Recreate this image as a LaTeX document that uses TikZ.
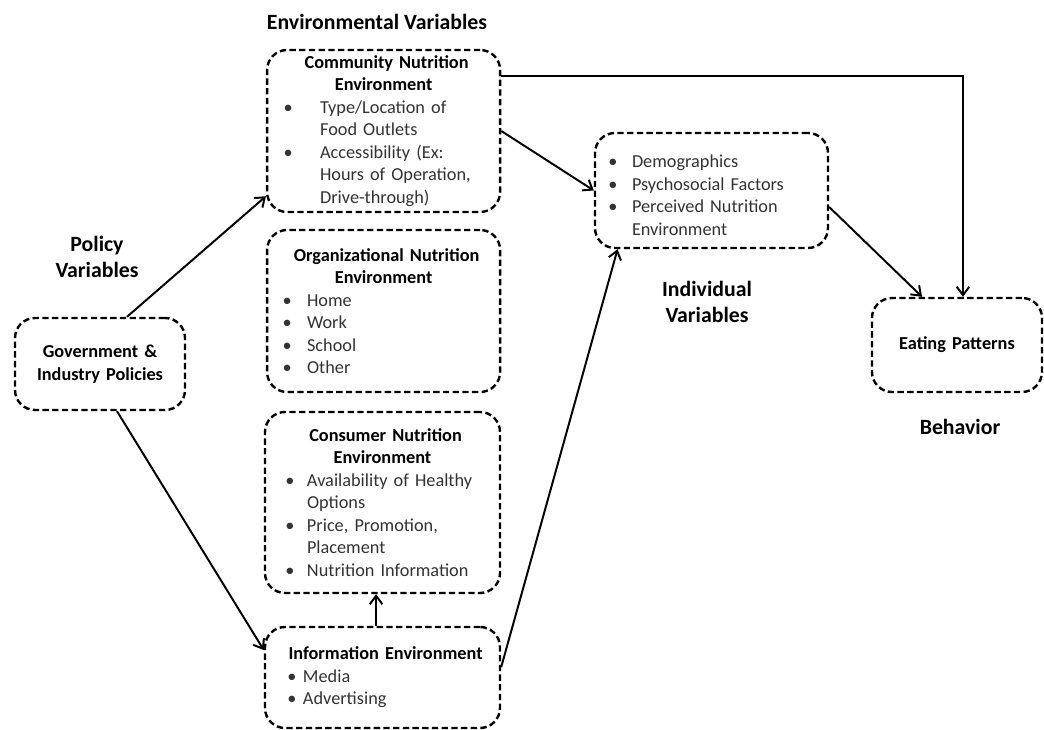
\documentclass[tikz,border=0pt]{standalone}
\usepackage{fontspec}
\setmainfont{Carlito}
\usetikzlibrary{arrows.meta, positioning, calc}

\newlength{\bpre}
\newlength{\bind}
\newcommand{\bitem}[1]{\par\hangindent=\bind\hangafter=1\noindent\makebox[\bind][l]{\hspace{\bpre}\textbullet}#1\par}
\newcommand{\btitle}[1]{{\centering\color{black}\bfseries #1\par}}

\tikzstyle{dbox} = [rectangle, draw=black, dash pattern=on 4.5pt off 2.4pt, line width=1.7pt, rounded corners=0.5cm, inner xsep=0.3cm, text=black!80, font=\fontsize{13}{16}\selectfont, align=left]
\tikzstyle{hdr} = [font=\fontsize{15.5}{19}\selectfont\bfseries, align=center]
\tikzstyle{link} = [->, line width=1.4pt]

\begin{document}
\begin{tikzpicture}[>={Straight Barb[length=6pt,width=9pt]}]
        \useasboundingbox (0,0) rectangle (26.1,18.25);

        % Environmental variables
        \node[hdr] (env_label) at (9.425, 17.7) {Environmental Variables};
        \node[dbox, text width=5.225cm, minimum height=4.05cm] (comm) at (9.59, 14.975) {
            \setlength{\bpre}{0.11cm}\setlength{\bind}{1.025cm}
            \btitle{Community Nutrition\\Environment}
            \bitem{Type/Location of\newline Food Outlets}
            \bitem{Accessibility (Ex:\newline Hours of Operation,\newline Drive-through)}
        };
        \node[dbox, text width=5.225cm, minimum height=4.05cm] (org) at (9.59, 10.475) {
            \setlength{\bpre}{0.085cm}\setlength{\bind}{0.7cm}
            \btitle{Organizational Nutrition\\Environment}
            \bitem{Home}
            \bitem{Work}
            \bitem{School}
            \bitem{Other}
        };
        \node[dbox, text width=5.275cm, minimum height=4.525cm] (cons) at (9.5625, 5.6875) {
            \setlength{\bpre}{0.21cm}\setlength{\bind}{0.75cm}
            \btitle{Consumer Nutrition\\Environment}
            \bitem{Availability of Healthy\newline Options}
            \bitem{Price, Promotion,\newline Placement}
            \bitem{Nutrition Information}
        };
        \node[dbox, text width=5.275cm, minimum height=2.525cm] (info) at (9.5625, 1.3125) {
            \setlength{\bpre}{0.26cm}\setlength{\bind}{0.65cm}
            \btitle{Information Environment}
            \bitem{Media}
            \bitem{Advertising}
        };

        % Policy variables
        \node[hdr] (pol_label) at (2.425, 11.825) {Policy\\Variables};
        \node[dbox, text=black, text width=3.65cm, minimum height=2.3cm, align=center, font=\fontsize{13}{16}\selectfont\bfseries] (pol) at (2.5, 9.15) {Government \&\\Industry Policies};

        % Individual variables
        \node[dbox, text width=5.225cm, minimum height=2.875cm] (ind) at (17.7875, 13.4875) {
            \setlength{\bpre}{0.035cm}\setlength{\bind}{0.625cm}
            \bitem{Demographics}
            \bitem{Psychosocial Factors}
            \bitem{Perceived Nutrition\newline Environment}
        };
        \node[hdr] (ind_label) at (17.675, 10.7) {Individual\\Variables};

        % Behavior
        \node[dbox, text=black, text width=3.65cm, minimum height=2.35cm, align=center, font=\fontsize{13}{16}\selectfont\bfseries] (eat) at (23.925, 9.625) {Eating Patterns};
        \node[hdr] (beh_label) at (24.0, 7.575) {Behavior};

        % Connectors
        \draw[link] ($(pol.north)+(0.675,0)$) -- (comm.209);
        \draw[link] ($(pol.south)+(0.425,0)$) -- (info.167);
        \draw[link] ($(info.north)+(-0.16,0)$) -- ($(cons.south)+(-0.16,0)$);
        \draw[link] (info.5) -- (ind.212);
        \draw[link] (comm.east) -- (ind.west);
        \draw[link] (comm.25) -| ($(eat.north)+(0.15,0)$);
        \draw[link] (ind.-8) -- ($(eat.north)+(-0.875,0)$);
    \end{tikzpicture}
\end{document}
